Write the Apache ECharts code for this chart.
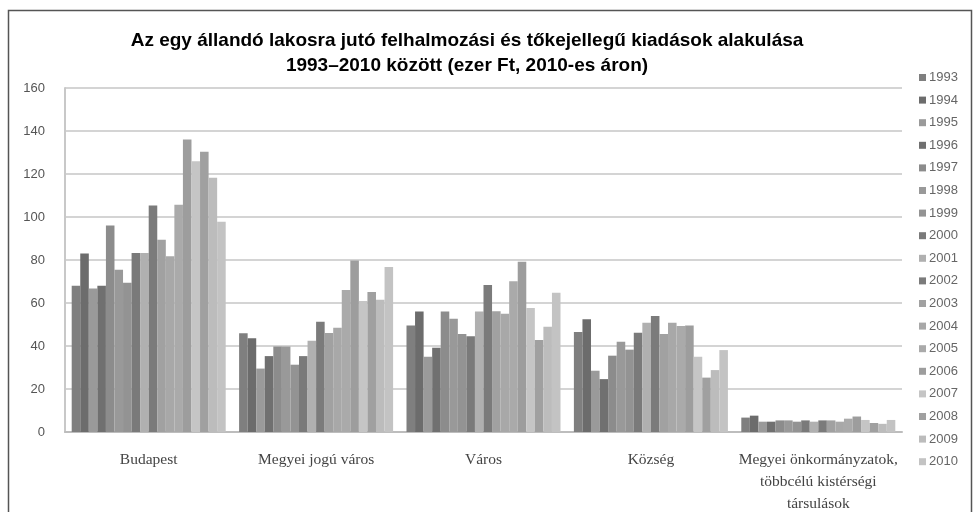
<!DOCTYPE html>
<html>
<head>
<meta charset="utf-8">
<script src="https://cdn.jsdelivr.net/npm/echarts@6/dist/echarts.min.js"></script>
<style>
  html, body { margin: 0; padding: 0; background: #fff; }
  #chart { width: 980px; height: 512px; }
</style>
</head>
<body>
<div id="chart"></div>
<script>
// categories and year series
const categories = [
  'Budapest',
  'Megyei jogú város',
  'Város',
  'Község',
  'Megyei önkormányzatok,\ntöbbcélú kistérségi\ntársulások'
]
const years = ['1993', '1994', '1995', '1996', '1997', '1998', '1999', '2000', '2001',
  '2002', '2003', '2004', '2005', '2006', '2007', '2008', '2009', '2010']

// values per category, one entry per year (ezer Ft)
const budapest = [68, 83, 66.8, 68, 96, 75.5, 69.4, 83.3, 83.3, 105.4, 89.4, 81.7, 105.7, 136, 125.9, 130.4, 118.3, 97.8]
const megyeiJogu = [45.9, 43.6, 29.5, 35.3, 39.8, 39.8, 31.3, 35.3, 42.5, 51.3, 46, 48.5, 66, 79.8, 60.9, 65.1, 61.5, 76.7]
const varos = [49.5, 56, 35, 39.2, 56, 52.7, 45.6, 44.5, 56, 68.4, 56.2, 55, 70.1, 79.2, 57.7, 42.8, 49, 64.8]
const kozseg = [46.5, 52.5, 28.5, 24.6, 35.5, 42, 38.3, 46.2, 50.8, 54, 45.6, 50.8, 49.3, 49.5, 35, 25.3, 28.8, 38.1]
const megyeiOnk = [6.7, 7.6, 4.8, 4.8, 5.4, 5.4, 4.8, 5.4, 4.8, 5.4, 5.4, 4.8, 6.2, 7.2, 5.6, 4.2, 3.8, 5.6]

const colors = ['#7f7f7f', '#6c6c6c', '#9a9a9a', '#707070', '#8c8c8c', '#999999', '#939393', '#7a7a7a', '#b0b0b0',
  '#7b7b7b', '#a1a1a1', '#a8a8a8', '#aaaaaa', '#9d9d9d', '#c5c5c5', '#a0a0a0', '#bcbcbc', '#c3c3c3']

const groups = [budapest, megyeiJogu, varos, kozseg, megyeiOnk]

const chart = echarts.init(document.getElementById('chart'), null, { renderer: 'canvas' })

chart.setOption({
  animation: false,
  backgroundColor: '#fff',
  title: {
    text: 'Az egy állandó lakosra jutó felhalmozási és tőkejellegű kiadások alakulása\n1993–2010 között (ezer Ft, 2010-es áron)',
    left: 462,
    textAlign: 'center',
    top: 23,
    textStyle: {
      fontFamily: 'Liberation Sans',
      fontSize: 19,
      fontWeight: 'bold',
      color: '#000',
      lineHeight: 25
    }
  },
  graphic: [
    {
      type: 'rect',
      shape: { x: 8.5, y: 10.5, width: 963, height: 520 },
      style: { fill: 'none', stroke: '#555', lineWidth: 1.5 },
      silent: true
    }
  ],
  legend: {
    orient: 'vertical',
    left: 914,
    top: 66,
    itemWidth: 7,
    itemHeight: 7,
    itemGap: 9.6,
    icon: 'rect',
    textStyle: { fontFamily: 'Liberation Sans', fontSize: 13, color: '#666', padding: [0, 0, 0, -2] },
    data: years
  },
  grid: { left: 65, right: 78, top: 88, bottom: 80, outerBoundsMode: 'none' },
  xAxis: {
    type: 'category',
    data: categories,
    axisTick: { show: false },
    axisLine: { lineStyle: { color: '#bdbdbd', width: 2 } },
    axisLabel: {
      fontFamily: 'Liberation Serif',
      fontSize: 15.5,
      color: '#444',
      margin: 17,
      lineHeight: 22,
      interval: 0
    }
  },
  yAxis: {
    type: 'value',
    min: 0,
    max: 160,
    interval: 20,
    axisLine: { show: true, lineStyle: { color: '#c8c8c8', width: 2 } },
    axisTick: { show: false },
    splitLine: { lineStyle: { color: '#d4d4d4', width: 2 } },
    axisLabel: { fontFamily: 'Liberation Sans', fontSize: 13, color: '#555', margin: 20 }
  },
  series: years.map((y, i) => ({
    name: y,
    type: 'bar',
    barGap: '0%',
    barCategoryGap: '8%',
    itemStyle: { color: colors[i] },
    data: groups.map(g => g[i])
  }))
})
</script>
</body>
</html>
